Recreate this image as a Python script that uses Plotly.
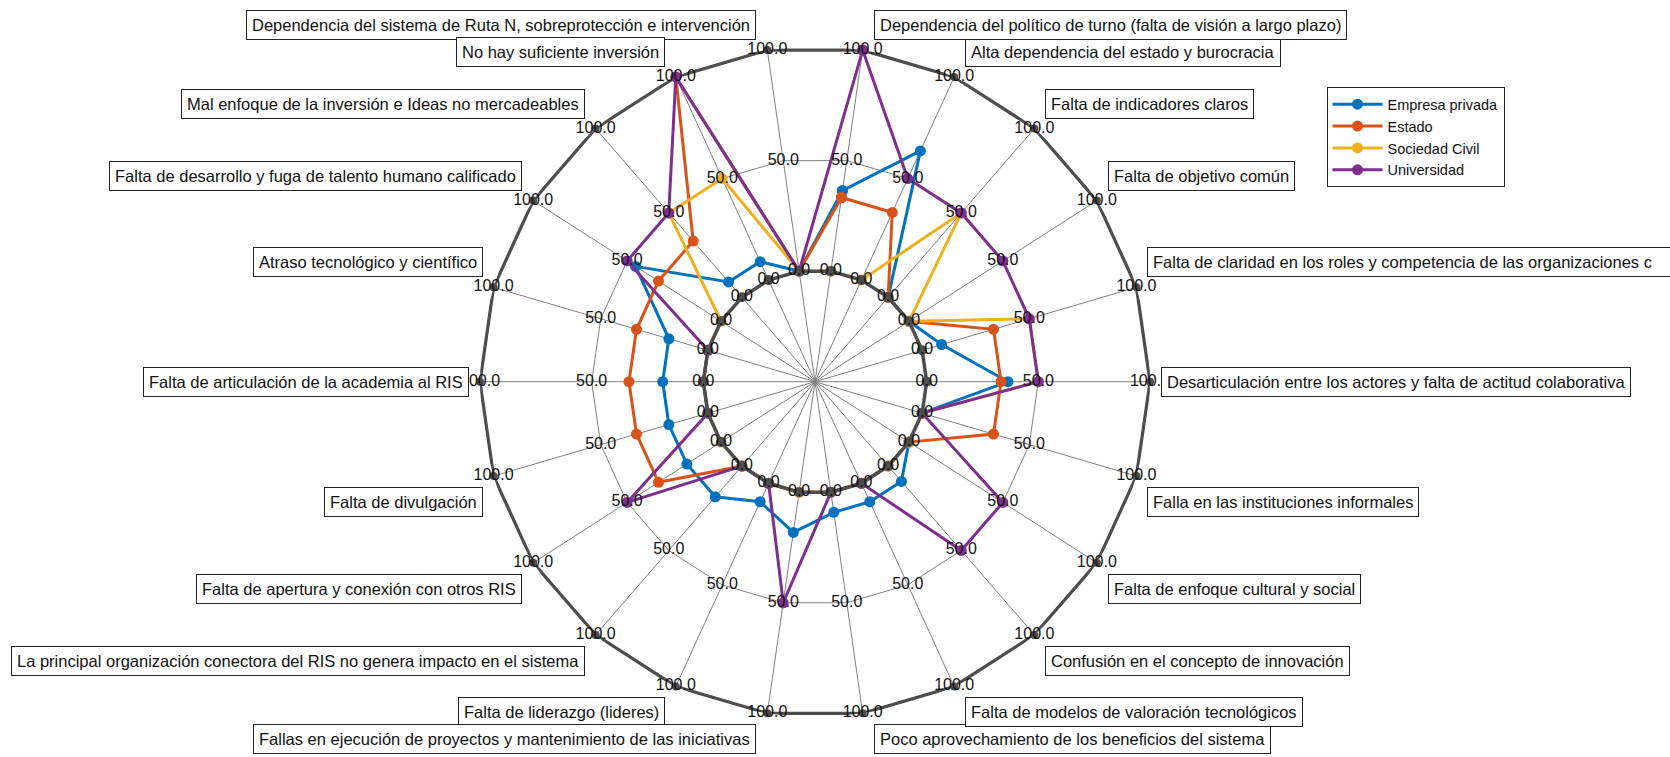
import math
import plotly.graph_objects as go

# ---------------- data ----------------
categories = [
    "Dependencia del político de turno (falta de visión a largo plazo)",
    "Alta dependencia del estado y burocracia",
    "Falta de indicadores claros",
    "Falta de objetivo común",
    "Falta de claridad en los roles y competencia de las organizaciones c",
    "Desarticulación entre los actores y falta de actitud colaborativa",
    "Falla en las instituciones informales",
    "Falta de enfoque cultural y social",
    "Confusión en el concepto de innovación",
    "Falta de modelos de valoración tecnológicos",
    "Poco aprovechamiento de los beneficios del sistema",
    "Fallas en ejecución de proyectos y mantenimiento de las iniciativas",
    "Falta de liderazgo (lideres)",
    "La principal organización conectora del RIS no genera impacto en el sistema",
    "Falta de apertura y conexión con otros RIS",
    "Falta de divulgación",
    "Falta de articulación de la academia al RIS",
    "Atraso tecnológico y científico",
    "Falta de desarrollo y fuga de talento humano calificado",
    "Mal enfoque de la inversión e Ideas no mercadeables",
    "No hay suficiente inversión",
    "Dependencia del sistema de Ruta N, sobreprotección e intervención",
]

empresa_privada = [36.4, 63.6, 0, 0, 9.1, 36.4, 0, 0, 9.1, 9.1, 9.1, 18.2,
                   9.1, 18.2, 18.2, 18.2, 18.2, 18.2, 45.5, 9.1, 9.1, 0]
estado = [33.3, 33.3, 0, 0, 33.3, 33.3, 33.3, 0, 0, 0, 0, 0,
          0, 0, 33.3, 33.3, 33.3, 33.3, 33.3, 33.3, 100, 0]
sociedad_civil = [0, 0, 50, 0, 50, 50, 0, 0, 0, 0, 0, 0,
                  0, 0, 0, 0, 0, 0, 0, 50, 50, 0]
universidad = [100, 50, 50, 50, 50, 50, 0, 50, 50, 0, 0, 50,
               0, 0, 50, 0, 0, 0, 50, 50, 100, 0]

series_names = ["Empresa privada", "Estado", "Sociedad Civil", "Universidad"]
series_values = [empresa_privada, estado, sociedad_civil, universidad]
series_colors = ["#0072BD", "#D95319", "#EDB120", "#7E2F8E"]

tick_values = [0, 50, 100]
tick_labels = ["0.0", "50.0", "100.0"]
axis_min, axis_max = -50, 100

# ---------------- layout geometry ----------------
W, H = 1670, 757
CX, CY, R = 815.0, 381.7, 335.0
N = len(categories)
ROT = 90 - 180.0 / N

FONT = "Liberation Sans, Arial, Helvetica, sans-serif"
DARK = "#4D4D4D"
GRID = "#808080"

fig = go.Figure()


def closed(seq):
    return list(seq) + [seq[0]]


# spokes
sp_r, sp_t = [], []
for c in categories:
    sp_r += [axis_min, axis_max, None]
    sp_t += [c, c, c]
fig.add_trace(go.Scatterpolar(r=sp_r, theta=sp_t, mode="lines",
                              line=dict(color=GRID, width=1),
                              hoverinfo="skip", showlegend=False, cliponaxis=False))

# middle web (50)
fig.add_trace(go.Scatterpolar(r=[tick_values[1]] * (N + 1), theta=closed(categories),
                              mode="lines", line=dict(color=GRID, width=1),
                              hoverinfo="skip", showlegend=False, cliponaxis=False))

# outer web (100)
fig.add_trace(go.Scatterpolar(r=[tick_values[2]] * (N + 1), theta=closed(categories),
                              mode="lines+markers", line=dict(color=DARK, width=3.2),
                              marker=dict(color=DARK, size=8),
                              hoverinfo="skip", showlegend=False, cliponaxis=False))

# data series
for name, vals, col in zip(series_names, series_values, series_colors):
    fig.add_trace(go.Scatterpolar(r=closed(vals), theta=closed(categories),
                                  mode="lines+markers", name=name,
                                  line=dict(color=col, width=3),
                                  marker=dict(color=col, size=11),
                                  cliponaxis=False))

# zero web, on top
fig.add_trace(go.Scatterpolar(r=[tick_values[0]] * (N + 1), theta=closed(categories),
                              mode="lines+markers", line=dict(color=DARK, width=3.5),
                              marker=dict(color=DARK, size=10),
                              hoverinfo="skip", showlegend=False, cliponaxis=False))

# tick labels on every axis
tr, tt, tx = [], [], []
for c in categories:
    for v, lab in zip(tick_values, tick_labels):
        tr.append(v)
        tt.append(c)
        tx.append(lab)
fig.add_trace(go.Scatterpolar(r=tr, theta=tt, mode="text", text=tx,
                              textposition="middle center",
                              textfont=dict(family=FONT, size=16, color="#111111"),
                              hoverinfo="skip", showlegend=False, cliponaxis=False))

# boxed category labels
annotations = []
for k in reversed(range(N)):
    a = math.radians(ROT - k * 360.0 / N)
    ca, sa = math.cos(a), math.sin(a)
    vx = CX + R * ca
    vy = CY - R * sa
    if ca > 1e-6:
        xa, xs = "left", 11
    elif ca < -1e-6:
        xa, xs = "right", -11
    else:
        xa, xs = "center", 0
    if sa > 1e-6:
        ya, ys = "bottom", 10
    elif sa < -1e-6:
        ya, ys = "top", -11
    else:
        ya, ys = "middle", 0
    txt = categories[k]
    if k == 4:
        txt = txt + "\u00a0" * 8
    annotations.append(dict(
        text=txt, x=vx / W, y=1 - vy / H, xref="paper", yref="paper",
        xanchor=xa, yanchor=ya, xshift=xs, yshift=ys, showarrow=False,
        font=dict(family=FONT, size=16.5, color="#111111"),
        bgcolor="white", bordercolor="#222222", borderwidth=1, borderpad=5,
    ))

fig.update_layout(
    width=W, height=H,
    margin=dict(l=0, r=0, t=0, b=0),
    paper_bgcolor="white", plot_bgcolor="white",
    template="none",
    font=dict(family=FONT, color="#111111"),
    polar=dict(
        domain=dict(x=[(CX - R) / W, (CX + R) / W],
                    y=[1 - (CY + R) / H, 1 - (CY - R) / H]),
        bgcolor="rgba(0,0,0,0)",
        radialaxis=dict(range=[axis_min, axis_max], visible=False,
                        showgrid=False, showline=False, showticklabels=False, ticks=""),
        angularaxis=dict(type="category", rotation=ROT, direction="clockwise",
                         showgrid=False, showline=False, showticklabels=False, ticks="",
                         categoryorder="array", categoryarray=categories),
    ),
    legend=dict(x=1326.5 / W, y=1 - 87.3 / H, xanchor="left", yanchor="top",
                bgcolor="white", bordercolor="#262626", borderwidth=1,
                font=dict(family=FONT, size=14.5, color="#111111"),
                tracegroupgap=0, itemwidth=50),
    annotations=annotations,
    showlegend=True,
)

fig.write_html("out.html", config={"displayModeBar": False},
               post_script="document.body.style.margin='0';document.body.style.overflow='hidden';")
